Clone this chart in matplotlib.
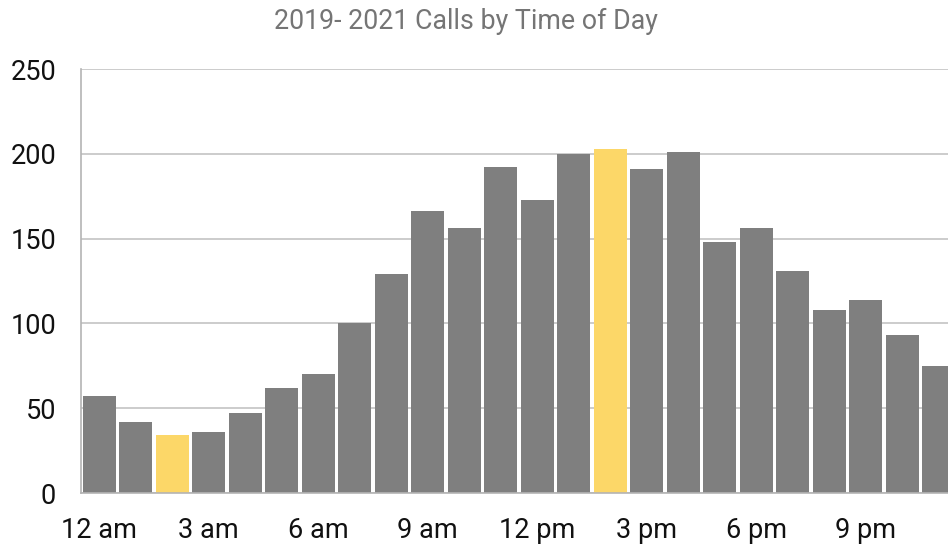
import matplotlib.pyplot as plt

# hourly call counts, 12 am .. 11 pm
hours = list(range(24))
calls = [57, 42, 34, 36, 47, 62, 70, 100, 129, 166, 156, 192,
         173, 200, 203, 191, 201, 148, 156, 131, 108, 114, 93, 75]
highlight = [2, 14]  # lowest / highest hours
tick_pos = [0, 3, 6, 9, 12, 15, 18, 21]
tick_labels = ["12 am", "3 am", "6 am", "9 am", "12 pm", "3 pm", "6 pm", "9 pm"]

plt.rcParams['font.family'] = ['Roboto', 'DejaVu Sans']

colors = ["#FCD768" if h in highlight else "#7F7F7F" for h in hours]

fig = plt.figure(figsize=(9.48, 5.46), dpi=100)
# axes runs a little past the right edge, like the original crop
ax = fig.add_axes([81 / 948, 53 / 546, 876 / 948, 424 / 546])

ax.bar(hours, calls, width=0.91, color=colors, zorder=2)

ax.set_xlim(-0.5, 23.5)
ax.set_ylim(0, 250)
ax.set_yticks([0, 50, 100, 150, 200, 250])
ax.set_xticks(tick_pos)
ax.set_xticklabels(tick_labels)
ax.tick_params(axis='both', length=0, labelsize=19.5, colors="#111111")
ax.tick_params(axis='x', pad=17)
ax.tick_params(axis='y', pad=18)

ax.grid(axis='y', color="#C8C8C8", linewidth=1.3, zorder=0)
for s in ["top", "right"]:
    ax.spines[s].set_visible(False)
ax.spines["left"].set_color("#B4B4B4")
ax.spines["bottom"].set_color("#B4B4B4")
ax.spines["left"].set_linewidth(1.2)
ax.spines["bottom"].set_linewidth(1.2)

fig.text(0.491, 0.96, "2019- 2021 Calls by Time of Day", ha="center", va="center",
         fontsize=19.3, color="#757575")

fig.savefig("out.png", dpi=100)
